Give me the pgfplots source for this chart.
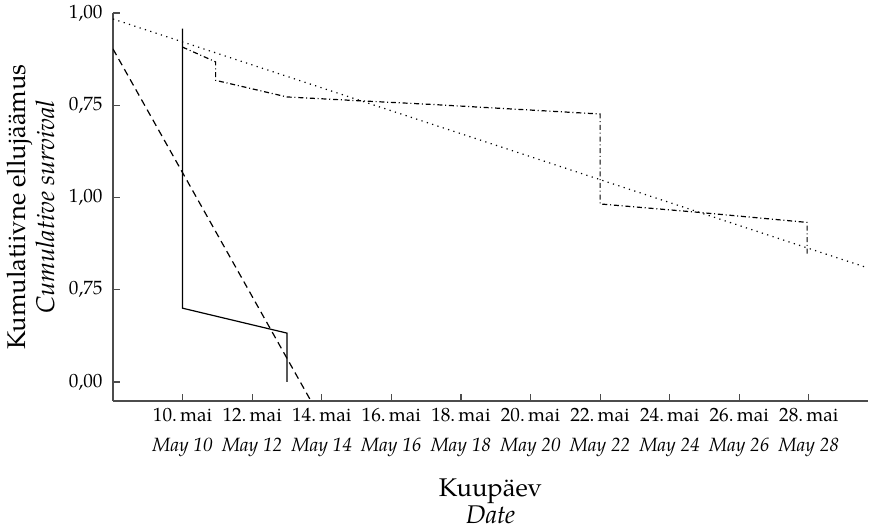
\documentclass[border=0pt]{standalone}
\usepackage{fontspec}
\setmainfont{TeX Gyre Pagella}
\usepackage{pgfplots}
\pgfplotsset{compat=1.18}
\begin{document}
\begin{tikzpicture}
\useasboundingbox (-56.5pt,-64pt) rectangle (378.5pt,200.5pt);
\begin{axis}[
  scale only axis, width=377.5pt, height=194pt,
  at={(0pt,0pt)}, anchor=south west,
  xmin=8, xmax=29.7, ymin=-0.206, ymax=4,
  axis lines*=left,
  axis line style={black!70, line width=0.6pt},
  tick style={black!70, line width=0.6pt},
  tick align=inside, major tick length=3.7pt,
  xtick={10,12,...,28},
  xticklabels={
    {10.\,mai\\[3.5pt]\textit{May 10}},
    {12.\,mai\\[3.5pt]\textit{May 12}},
    {14.\,mai\\[3.5pt]\textit{May 14}},
    {16.\,mai\\[3.5pt]\textit{May 16}},
    {18.\,mai\\[3.5pt]\textit{May 18}},
    {20.\,mai\\[3.5pt]\textit{May 20}},
    {22.\,mai\\[3.5pt]\textit{May 22}},
    {24.\,mai\\[3.5pt]\textit{May 24}},
    {26.\,mai\\[3.5pt]\textit{May 26}},
    {28.\,mai\\[3.5pt]\textit{May 28}}},
  ytick={0,1,2,3,4},
  yticklabels={{0,00},{0,75},{1,00},{0,75},{1,00}},
  xticklabel style={align=center, inner sep=0pt, anchor=north, yshift=-3.5pt,
    font=\fontsize{9.6}{11.5}\selectfont},
  yticklabel style={inner sep=0pt, anchor=east, xshift=-5pt,
    font=\fontsize{9.6}{11.5}\selectfont},
  xlabel={Kuupäev\\\textit{Date}},
  xlabel style={at={(axis description cs:0.5,0)}, anchor=north, align=center,
    inner sep=0pt, yshift=-38.5pt, font=\fontsize{12.8}{13.8}\selectfont},
  ylabel={Kumulatiivne ellujäämus\\\textit{Cumulative survival}},
  ylabel style={at={(axis description cs:-0.077,0.5)}, anchor=south, align=center,
    inner sep=0pt, font=\fontsize{12.8}{14.5}\selectfont},
  clip=true,
]
% dotted trend
\addplot[black, line width=0.6pt, dash pattern=on 0.6pt off 2.2pt] coordinates {
  (8,3.935) (29.7,1.236)};
% dashed
\addplot[black, line width=0.6pt, dash pattern=on 3.5pt off 2.3pt] coordinates {
  (8,3.61) (13.69,-0.206)};
% solid
\addplot[black, line width=0.6pt] coordinates {
  (10,3.83) (10,0.80) (13,0.53) (13,0)};
% dash-dot
\addplot[black, line width=0.6pt, dash pattern=on 2.5pt off 1.4pt on 0.5pt off 1.4pt] coordinates {
  (10,3.63) (10.95,3.47) (10.95,3.27) (13,3.09) (15,3.05) (17.1,3.01) (22,2.905)
  (22,1.93) (24.8,1.84) (27.95,1.73) (27.95,1.38)};
\end{axis}
\end{tikzpicture}
\end{document}
